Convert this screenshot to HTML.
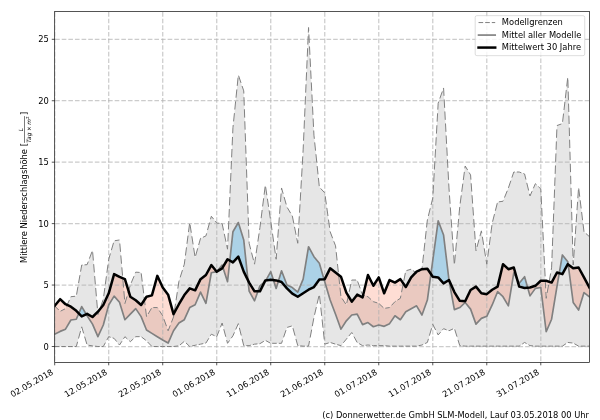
<!DOCTYPE html>
<html lang="de"><head><meta charset="utf-8"><title>Mittlere Niederschlagshöhe</title>
<style>html,body{margin:0;padding:0;background:#fff}svg{display:block}text{font-family:'DejaVu Sans','Liberation Sans',sans-serif;font-size:8.333px;fill:#000}</style></head><body>
<svg width="600" height="420" viewBox="0 0 600 420">
<rect width="600" height="420" fill="#fff"/>
<defs><clipPath id="ax"><rect x="54.70" y="11.50" width="534.70" height="350.90"/></clipPath></defs>
<g clip-path="url(#ax)">
<path d="M54.70 305.95 L60.10 311.36 L65.50 308.65 L70.90 296.73 L76.30 296.12 L81.71 265.03 L87.11 264.66 L92.51 250.28 L97.91 314.55 L103.31 299.19 L108.71 259.26 L114.11 240.82 L119.51 239.96 L124.91 303.49 L130.31 285.06 L135.72 272.16 L141.12 272.53 L146.52 316.64 L151.92 307.55 L157.32 307.55 L162.72 315.78 L168.12 330.77 L173.52 317.01 L178.92 281.37 L184.32 264.17 L189.73 222.51 L195.13 257.53 L200.53 238.37 L205.93 235.91 L211.33 216.25 L216.73 223.01 L222.13 223.62 L227.53 249.18 L232.93 127.77 L238.33 74.94 L243.74 90.91 L249.14 243.28 L254.54 264.17 L259.94 227.55 L265.34 185.04 L270.74 221.16 L276.14 259.26 L281.54 187.98 L286.94 207.03 L292.34 216.00 L297.75 243.28 L303.15 149.89 L308.55 27.50 L313.95 135.15 L319.35 187.00 L324.75 192.90 L330.15 231.73 L335.55 245.86 L340.95 296.73 L346.35 304.97 L351.76 280.02 L357.16 280.02 L362.56 295.01 L367.96 296.73 L373.36 301.65 L378.76 303.37 L384.16 308.41 L389.56 307.55 L394.96 301.65 L400.36 298.33 L405.77 270.81 L411.17 269.21 L416.57 273.26 L421.97 269.09 L427.37 219.93 L432.77 198.06 L438.17 103.20 L443.57 87.96 L448.97 187.98 L454.37 265.03 L459.78 206.42 L465.18 165.99 L470.58 174.96 L475.98 250.78 L481.38 230.87 L486.78 264.17 L492.18 223.25 L497.58 201.99 L502.98 201.26 L508.38 187.98 L513.79 172.01 L519.19 172.01 L524.59 173.98 L529.99 195.97 L535.39 183.68 L540.79 188.97 L546.19 298.33 L551.59 267.86 L556.99 125.56 L562.39 123.60 L567.80 77.02 L573.20 265.03 L578.60 187.37 L584.00 231.73 L589.40 236.65 L589.40 346.13 L584.00 346.13 L578.60 346.13 L573.20 343.06 L567.80 342.44 L562.39 346.13 L556.99 346.13 L551.59 346.13 L546.19 346.13 L540.79 346.13 L535.39 346.13 L529.99 345.64 L524.59 342.44 L519.19 346.13 L513.79 346.13 L508.38 346.13 L502.98 346.13 L497.58 346.13 L492.18 346.13 L486.78 346.13 L481.38 346.13 L475.98 346.13 L470.58 346.13 L465.18 346.13 L459.78 345.64 L454.37 328.31 L448.97 330.77 L443.57 328.68 L438.17 334.95 L432.77 324.38 L427.37 342.44 L421.97 345.03 L416.57 346.13 L411.17 346.13 L405.77 346.13 L400.36 346.13 L394.96 346.13 L389.56 346.13 L384.16 345.64 L378.76 345.64 L373.36 345.64 L367.96 345.03 L362.56 345.64 L357.16 342.44 L351.76 332.49 L346.35 339.13 L340.95 345.64 L335.55 344.17 L330.15 342.44 L324.75 344.17 L319.35 294.15 L313.95 317.50 L308.55 346.13 L303.15 346.13 L297.75 345.64 L292.34 325.86 L286.94 327.45 L281.54 343.31 L276.14 343.31 L270.74 343.31 L265.34 340.36 L259.94 343.67 L254.54 344.17 L249.14 345.64 L243.74 345.64 L238.33 323.64 L232.93 335.81 L227.53 343.31 L222.13 323.03 L216.73 336.67 L211.33 334.21 L205.93 343.06 L200.53 344.17 L195.13 345.27 L189.73 346.50 L184.32 341.34 L178.92 345.89 L173.52 346.50 L168.12 346.50 L162.72 346.50 L157.32 346.50 L151.92 346.50 L146.52 340.85 L141.12 336.67 L135.72 336.67 L130.31 341.71 L124.91 336.67 L119.51 345.03 L114.11 338.39 L108.71 336.67 L103.31 346.50 L97.91 346.50 L92.51 345.89 L87.11 345.03 L81.71 326.84 L76.30 346.50 L70.90 346.50 L65.50 346.50 L60.10 346.50 L54.70 346.50Z" fill="#808080" fill-opacity="0.2"/>
<path d="M54.70 305.83 L60.10 299.19 L65.50 304.23 L70.90 306.69 L76.30 310.86 L78.79 313.41 L76.30 319.22 L70.90 319.96 L65.50 329.17 L60.10 331.39 L54.70 334.21Z M86.21 314.24 L87.11 313.81 L92.51 317.01 L97.91 311.72 L103.31 304.97 L108.71 293.29 L114.11 274.12 L119.51 276.95 L124.91 279.16 L130.31 296.73 L135.72 300.30 L141.12 304.97 L146.52 296.73 L151.92 295.38 L157.32 275.84 L162.72 287.52 L168.12 294.64 L173.52 314.18 L178.92 304.23 L184.32 295.01 L189.73 288.38 L195.13 290.34 L200.53 279.16 L205.93 274.98 L211.33 265.03 L216.73 271.67 L211.33 272.77 L205.93 303.37 L200.53 292.06 L195.13 304.72 L189.73 307.55 L184.32 319.71 L178.92 323.03 L173.52 330.77 L168.12 343.06 L162.72 339.99 L157.32 336.67 L151.92 333.35 L146.52 330.03 L141.12 316.64 L135.72 308.65 L130.31 314.18 L124.91 319.71 L119.51 302.26 L114.11 296.12 L108.71 304.97 L103.31 325.00 L97.91 336.67 L92.51 324.14 L87.11 315.78Z M222.83 267.18 L227.53 259.26 L229.81 260.61 L227.53 281.74Z M247.98 280.27 L249.14 282.60 L254.54 291.33 L257.95 291.33 L254.54 300.79 L249.14 291.20Z M264.52 282.04 L265.34 280.39 L265.92 280.32 L265.34 281.37Z M273.46 280.09 L276.14 280.39 L278.39 281.06 L276.14 288.38Z M324.01 279.21 L324.75 279.16 L330.15 268.35 L335.55 272.53 L340.95 276.70 L346.35 292.56 L351.76 301.65 L357.16 294.64 L362.56 297.47 L367.96 274.98 L373.36 285.80 L378.76 277.44 L384.16 293.29 L389.56 280.02 L394.96 282.60 L400.36 279.16 L405.77 287.03 L411.17 277.44 L416.57 271.67 L421.97 269.21 L427.37 268.72 L430.93 273.98 L427.37 300.05 L421.97 315.04 L416.57 305.83 L411.17 308.65 L405.77 311.72 L400.36 319.71 L394.96 315.78 L389.56 323.64 L384.16 326.35 L378.76 325.00 L373.36 326.72 L367.96 322.54 L362.56 324.63 L357.16 314.18 L351.76 315.04 L346.35 320.82 L340.95 329.17 L335.55 314.18 L330.15 300.05 L324.75 281.74Z M448.97 280.02 L454.37 292.06 L459.78 300.79 L465.18 301.28 L470.58 289.98 L475.98 286.66 L481.38 293.29 L486.78 294.15 L492.18 289.73 L497.58 286.66 L502.98 264.17 L508.38 269.21 L513.79 267.49 L517.10 279.26 L513.79 272.77 L508.38 305.83 L502.98 296.73 L497.58 291.70 L492.18 304.97 L486.78 316.27 L481.38 318.36 L475.98 324.14 L470.58 309.14 L465.18 302.51 L459.78 307.55 L454.37 309.64Z M527.69 287.73 L529.99 287.52 L535.39 285.80 L540.79 280.76 L546.19 280.76 L551.59 282.60 L556.99 272.53 L559.25 273.19 L556.99 286.29 L551.59 319.22 L546.19 331.75 L540.79 287.52 L535.39 288.38 L529.99 295.87Z M568.16 264.45 L573.20 268.35 L578.60 267.49 L584.00 277.44 L589.40 287.52 L589.40 296.73 L584.00 292.56 L578.60 310.00 L573.20 302.51Z" fill="#fc5528" fill-opacity="0.2"/>
<path d="M78.79 313.41 L81.71 306.56 L86.21 314.24 L81.71 316.39Z M216.73 271.67 L222.13 265.03 L222.83 267.18 L222.13 268.35Z M229.81 260.61 L232.93 231.73 L238.33 222.51 L243.74 239.96 L247.98 280.27 L243.74 271.67 L238.33 256.67 L232.93 262.45Z M257.95 291.33 L259.94 285.80 L264.52 282.04 L259.94 291.33Z M265.92 280.32 L270.74 271.67 L273.46 280.09 L270.74 279.78Z M278.39 281.06 L281.54 270.81 L286.94 285.06 L292.34 287.52 L297.75 292.06 L303.15 279.16 L308.55 246.72 L313.95 256.67 L319.35 263.31 L324.01 279.21 L319.35 279.53 L313.95 287.03 L308.55 289.73 L303.15 293.29 L297.75 296.73 L292.34 293.66 L286.94 288.38 L281.54 281.99Z M430.93 273.98 L432.77 260.48 L438.17 220.79 L443.57 235.05 L448.97 280.02 L443.57 283.34 L438.17 277.44 L432.77 276.70Z M517.10 279.26 L519.19 283.34 L524.59 276.70 L527.69 287.73 L524.59 288.01 L519.19 286.66Z M559.25 273.19 L562.39 254.95 L567.80 261.71 L568.16 264.45 L567.80 264.17 L562.39 274.12Z" fill="#56b4e9" fill-opacity="0.4"/>
<path d="M54.70 362.40 V11.50 M108.71 362.40 V11.50 M162.72 362.40 V11.50 M216.73 362.40 V11.50 M270.74 362.40 V11.50 M324.75 362.40 V11.50 M378.76 362.40 V11.50 M432.77 362.40 V11.50 M486.78 362.40 V11.50 M540.79 362.40 V11.50" fill="none" stroke="#b0b0b0" stroke-opacity="0.65" stroke-width="1.25" stroke-dasharray="4.62 2.00" stroke-dashoffset="-1.50"/>
<path d="M54.70 346.50 H589.40 M54.70 285.06 H589.40 M54.70 223.62 H589.40 M54.70 162.18 H589.40 M54.70 100.74 H589.40 M54.70 39.30 H589.40" fill="none" stroke="#b0b0b0" stroke-opacity="0.65" stroke-width="1.25" stroke-dasharray="4.62 2.00" stroke-dashoffset="-0.40"/>
<path d="M54.70 305.95 L58.76 310.01 M60.55 311.13 L65.01 308.90 M66.45 306.56 L69.40 300.06 M70.67 297.25 L70.90 296.73 L75.15 296.25 M76.56 294.65 L77.95 286.62 M78.56 283.16 L79.95 275.13 M80.55 271.66 L81.71 265.03 L82.51 264.98 M84.51 264.84 L87.11 264.66 L88.25 261.61 M89.38 258.61 L91.99 251.66 M92.67 252.23 L93.37 260.56 M93.67 264.15 L94.37 272.47 M94.67 276.07 L95.37 284.39 M95.68 287.98 L96.37 296.31 M96.68 299.90 L97.38 308.22 M97.68 311.82 L97.91 314.55 L99.58 309.79 M100.66 306.73 L103.15 299.63 M103.72 296.17 L104.82 288.00 M105.30 284.46 L106.41 276.29 M106.88 272.76 L107.99 264.58 M108.47 261.05 L108.71 259.26 L110.41 253.46 M111.35 250.25 L113.53 242.82 M114.86 240.70 L119.48 239.97 M119.81 243.49 L120.52 251.81 M120.82 255.40 L121.53 263.72 M121.84 267.32 L122.55 275.64 M122.85 279.23 L123.56 287.55 M123.86 291.14 L124.57 299.46 M124.88 303.06 L124.91 303.49 L126.98 296.45 M127.92 293.24 L130.09 285.81 M131.24 282.84 L134.05 276.15 M135.26 273.25 L135.72 272.16 L139.59 272.42 M141.22 273.36 L142.22 281.58 M142.66 285.12 L143.66 293.34 M144.10 296.89 L145.11 305.11 M145.54 308.66 L146.52 316.64 L146.61 316.48 M148.08 314.01 L151.48 308.29 M153.32 307.55 L157.32 307.55 L157.80 308.28 M159.33 310.62 L162.72 315.78 L162.84 316.10 M163.93 319.14 L166.47 326.19 M167.57 329.23 L168.12 330.77 L170.22 325.42 M171.38 322.46 L173.52 317.01 L173.77 315.35 M174.31 311.84 L175.54 303.73 M176.07 300.22 L177.30 292.11 M177.83 288.60 L178.92 281.37 L179.17 280.57 M180.17 277.42 L182.46 270.10 M183.45 266.95 L184.32 264.17 L184.98 259.09 M185.44 255.55 L186.50 247.35 M186.96 243.82 L188.03 235.62 M188.48 232.08 L189.55 223.89 M190.06 224.66 L191.31 232.76 M191.85 236.26 L193.10 244.37 M193.64 247.87 L194.89 255.97 M195.63 255.74 L197.74 248.25 M198.65 245.01 L200.53 238.37 L201.03 238.13 M202.97 237.25 L205.93 235.91 L206.64 233.33 M207.53 230.08 L209.60 222.55 M210.49 219.29 L211.33 216.25 L213.60 219.09 M215.25 221.15 L216.73 223.01 L219.56 223.33 M221.55 223.55 L222.13 223.62 L223.58 230.49 M224.30 233.89 L225.96 241.75 M226.68 245.14 L227.53 249.18 L227.71 245.10 M227.88 241.48 L228.25 233.09 M228.41 229.46 L228.78 221.07 M228.94 217.45 L229.32 209.05 M229.48 205.43 L229.85 197.04 M230.01 193.41 L230.39 185.02 M230.55 181.40 L230.92 173.01 M231.08 169.38 L231.46 160.99 M231.62 157.37 L231.99 148.98 M232.15 145.35 L232.52 136.96 M232.69 133.34 L232.93 127.77 L233.22 124.99 M233.58 121.41 L234.43 113.13 M234.80 109.56 L235.64 101.28 M236.01 97.71 L236.85 89.43 M237.22 85.86 L238.06 77.58 M238.61 75.74 L241.03 82.91 M242.08 86.01 L243.74 90.91 L243.83 93.57 M243.96 97.20 L244.26 105.60 M244.38 109.23 L244.68 117.63 M244.81 121.26 L245.11 129.66 M245.24 133.29 L245.54 141.69 M245.66 145.32 L245.96 153.72 M246.09 157.35 L246.39 165.75 M246.52 169.38 L246.81 177.78 M246.94 181.41 L247.24 189.81 M247.37 193.44 L247.67 201.84 M247.80 205.47 L248.09 213.87 M248.22 217.50 L248.52 225.90 M248.65 229.53 L248.95 237.93 M249.08 241.56 L249.14 243.28 L250.70 249.33 M251.55 252.63 L253.52 260.24 M254.37 263.54 L254.54 264.17 L255.64 256.72 M256.15 253.21 L257.35 245.07 M257.87 241.56 L259.07 233.43 M259.59 229.92 L259.94 227.55 L260.68 221.74 M261.13 218.19 L262.17 209.99 M262.62 206.45 L263.66 198.25 M264.11 194.70 L265.15 186.50 M265.65 187.09 L266.86 195.22 M267.39 198.73 L268.60 206.85 M269.13 210.36 L270.34 218.48 M270.86 221.99 L272.01 230.14 M272.51 233.67 L273.67 241.82 M274.17 245.34 L275.32 253.49 M275.82 257.01 L276.14 259.26 L276.60 253.21 M276.87 249.61 L277.50 241.27 M277.78 237.67 L278.41 229.33 M278.68 225.73 L279.31 217.39 M279.59 213.78 L280.22 205.44 M280.49 201.84 L281.12 193.50 M281.40 189.90 L281.54 187.98 L283.18 193.75 M284.09 196.98 L286.22 204.46 M287.25 207.54 L290.67 213.21 M292.14 215.67 L292.34 216.00 L293.82 223.45 M294.50 226.87 L296.07 234.79 M296.74 238.22 L297.75 243.28 L297.92 240.26 M298.13 236.65 L298.61 228.27 M298.82 224.66 L299.31 216.29 M299.52 212.67 L300.00 204.30 M300.21 200.68 L300.69 192.31 M300.90 188.69 L301.39 180.32 M301.60 176.70 L302.08 168.33 M302.29 164.71 L302.77 156.34 M302.98 152.73 L303.15 149.89 L303.39 144.34 M303.55 140.72 L303.92 132.33 M304.08 128.70 L304.45 120.31 M304.61 116.69 L304.98 108.29 M305.14 104.67 L305.51 96.28 M305.67 92.65 L306.04 84.26 M306.20 80.64 L306.57 72.25 M306.73 68.62 L307.10 60.23 M307.26 56.61 L307.63 48.21 M307.79 44.59 L308.16 36.20 M308.32 32.57 L308.55 27.50 L308.71 30.82 M308.90 34.44 L309.32 42.83 M309.50 46.45 L309.92 54.83 M310.10 58.45 L310.52 66.84 M310.70 70.46 L311.12 78.84 M311.31 82.46 L311.73 90.85 M311.91 94.47 L312.33 102.85 M312.51 106.47 L312.93 114.85 M313.11 118.48 L313.53 126.86 M313.71 130.48 L313.95 135.15 L314.33 138.81 M314.70 142.39 L315.56 150.66 M315.94 154.23 L316.80 162.50 M317.17 166.08 L318.03 174.35 M318.40 177.92 L319.26 186.19 M320.67 188.45 L324.64 192.78 M325.21 196.21 L326.35 204.37 M326.84 207.89 L327.97 216.05 M328.46 219.58 L329.60 227.74 M330.09 231.27 L330.15 231.73 L332.64 238.25 M333.78 241.24 L335.55 245.86 L335.84 248.60 M336.22 252.17 L337.10 260.43 M337.48 264.00 L338.36 272.27 M338.74 275.84 L339.61 284.10 M339.99 287.67 L340.87 295.94 M342.15 298.55 L345.69 303.96 M346.77 303.04 L348.47 295.21 M349.20 291.83 L350.90 283.99 M351.63 280.61 L351.76 280.02 L356.04 280.02 M357.64 281.36 L360.18 288.41 M361.27 291.45 L362.56 295.01 L364.81 295.73 M366.78 296.36 L367.96 296.73 L371.03 299.53 M372.82 301.15 L373.36 301.65 L377.32 302.91 M379.24 303.82 L383.36 307.66 M385.26 308.23 L389.56 307.55 L389.83 307.26 M391.54 305.39 L394.96 301.65 L395.57 301.28 M397.46 300.11 L400.36 298.33 L400.89 295.65 M401.56 292.22 L403.12 284.30 M403.79 280.87 L405.35 272.94 M406.51 270.59 L411.08 269.23 M412.93 270.53 L416.57 273.26 L417.21 272.77 M419.05 271.34 L421.97 269.09 L422.25 266.49 M422.65 262.92 L423.55 254.67 M423.95 251.10 L424.85 242.85 M425.24 239.28 L426.15 231.02 M426.54 227.46 L427.37 219.93 L427.54 219.25 M428.36 215.94 L430.25 208.26 M431.07 204.94 L432.77 198.06 L432.82 197.19 M433.03 193.57 L433.50 185.20 M433.71 181.58 L434.19 173.21 M434.39 169.59 L434.87 161.22 M435.07 157.60 L435.55 149.23 M435.76 145.61 L436.23 137.24 M436.44 133.62 L436.92 125.24 M437.12 121.63 L437.60 113.25 M437.81 109.64 L438.17 103.20 L438.75 101.56 M439.83 98.51 L442.34 91.43 M443.43 88.37 L443.57 87.96 L444.00 95.85 M444.19 99.47 L444.65 107.85 M444.84 111.46 L445.29 119.84 M445.49 123.46 L445.94 131.84 M446.14 135.46 L446.59 143.84 M446.79 147.45 L447.24 155.83 M447.43 159.45 L447.89 167.83 M448.08 171.45 L448.53 179.83 M448.73 183.45 L448.97 187.98 L449.24 191.81 M449.49 195.42 L450.08 203.77 M450.33 207.38 L450.92 215.73 M451.17 219.33 L451.76 227.68 M452.01 231.29 L452.59 239.64 M452.85 243.25 L453.43 251.60 M453.69 255.21 L454.27 263.56 M454.57 262.91 L455.34 254.61 M455.67 251.02 L456.43 242.72 M456.76 239.13 L457.53 230.83 M457.86 227.24 L458.62 218.94 M458.95 215.35 L459.72 207.05 M460.16 203.51 L461.26 195.33 M461.73 191.79 L462.82 183.61 M463.29 180.08 L464.39 171.90 M464.86 168.37 L465.18 165.99 L467.60 170.02 M469.08 172.47 L470.58 174.96 L470.91 179.65 M471.17 183.25 L471.76 191.60 M472.02 195.21 L472.61 203.56 M472.87 207.16 L473.47 215.51 M473.72 219.12 L474.32 227.47 M474.58 231.07 L475.17 239.42 M475.43 243.03 L475.98 250.78 L476.13 250.24 M477.01 246.97 L479.06 239.42 M479.94 236.16 L481.38 230.87 L481.77 233.28 M482.34 236.77 L483.65 244.85 M484.21 248.33 L485.52 256.41 M486.09 259.90 L486.78 264.17 L487.29 260.32 M487.76 256.78 L488.84 248.60 M489.30 245.06 L490.38 236.88 M490.85 233.34 L491.93 225.15 M492.57 221.73 L494.51 214.08 M495.35 210.78 L497.29 203.14 M498.88 201.82 L502.98 201.26 L503.29 200.50 M504.48 197.57 L507.24 190.81 M508.42 187.88 L510.85 180.71 M511.89 177.61 L513.79 172.01 L514.80 172.01 M516.80 172.01 L519.19 172.01 L521.39 172.81 M523.35 173.53 L524.59 173.98 L525.96 179.57 M526.78 182.89 L528.66 190.57 M529.48 193.89 L529.99 195.97 L532.10 191.17 M533.35 188.33 L535.39 183.68 L536.58 184.85 M538.35 186.58 L540.79 188.97 L540.96 192.32 M541.14 195.95 L541.55 204.33 M541.73 207.95 L542.14 216.34 M542.32 219.96 L542.74 228.34 M542.91 231.96 L543.33 240.35 M543.51 243.97 L543.92 252.35 M544.10 255.98 L544.51 264.36 M544.69 267.98 L545.11 276.37 M545.29 279.99 L545.70 288.37 M545.88 292.00 L546.19 298.33 L546.54 296.37 M547.15 292.91 L548.57 284.90 M549.19 281.44 L550.61 273.43 M551.22 269.96 L551.59 267.86 L551.83 261.67 M551.97 258.04 L552.28 249.64 M552.42 246.01 L552.74 237.62 M552.88 233.99 L553.20 225.59 M553.33 221.96 L553.65 213.56 M553.79 209.94 L554.11 201.54 M554.25 197.91 L554.57 189.51 M554.70 185.88 L555.02 177.49 M555.16 173.86 L555.48 165.46 M555.62 161.83 L555.94 153.43 M556.07 149.81 L556.39 141.41 M556.53 137.78 L556.85 129.38 M556.99 125.76 L556.99 125.56 L561.43 123.95 M562.60 121.79 L563.56 113.55 M563.97 109.99 L564.93 101.76 M565.34 98.20 L566.30 89.96 M566.71 86.40 L567.66 78.17 M567.87 79.49 L568.11 87.90 M568.21 91.53 L568.45 99.93 M568.56 103.57 L568.80 111.97 M568.90 115.60 L569.15 124.01 M569.25 127.64 L569.49 136.05 M569.60 139.68 L569.84 148.09 M569.94 151.72 L570.18 160.12 M570.29 163.76 L570.53 172.16 M570.63 175.79 L570.87 184.20 M570.98 187.83 L571.22 196.24 M571.33 199.87 L571.57 208.28 M571.67 211.91 L571.91 220.32 M572.02 223.95 L572.26 232.35 M572.36 235.98 L572.60 244.39 M572.71 248.02 L572.95 256.43 M573.05 260.06 L573.20 265.03 L573.43 261.62 M573.69 258.01 L574.27 249.66 M574.52 246.05 L575.10 237.70 M575.35 234.09 L575.93 225.74 M576.18 222.13 L576.76 213.78 M577.01 210.17 L577.59 201.82 M577.84 198.21 L578.42 189.86 M578.73 188.47 L579.73 196.69 M580.16 200.24 L581.17 208.46 M581.60 212.01 L582.60 220.23 M583.03 223.78 L584.00 231.73 L584.13 231.85 M585.92 233.48 L589.40 236.65" fill="none" stroke="#808080" stroke-width="1.00" stroke-linejoin="round"/>
<path d="M54.70 346.50 L59.33 346.50 M61.33 346.50 L65.50 346.50 L65.96 346.50 M67.96 346.50 L70.90 346.50 L72.59 346.50 M74.59 346.50 L76.30 346.50 L77.61 341.76 M78.50 338.50 L80.57 330.97 M81.46 327.72 L81.71 326.84 L83.65 333.38 M84.60 336.58 L86.80 343.99 M88.45 345.24 L92.51 345.89 L93.07 345.95 M95.06 346.18 L97.91 346.50 L99.69 346.50 M101.69 346.50 L103.31 346.50 L105.43 342.63 M106.85 340.06 L108.71 336.67 L110.67 337.30 M112.64 337.92 L114.11 338.39 L116.71 341.59 M118.37 343.62 L119.51 345.03 L121.99 341.19 M123.51 338.84 L124.91 336.67 L127.40 338.99 M129.18 340.65 L130.31 341.71 L133.30 338.93 M135.08 337.27 L135.72 336.67 L139.63 336.67 M141.59 337.03 L145.85 340.33 M147.62 342.00 L151.63 346.20 M153.59 346.50 L157.32 346.50 L158.22 346.50 M160.22 346.50 L162.72 346.50 L164.85 346.50 M166.85 346.50 L168.12 346.50 L171.48 346.50 M173.48 346.50 L173.52 346.50 L178.10 345.98 M179.99 344.99 L184.19 341.45 M185.96 342.90 L189.73 346.50 L190.10 346.41 M192.09 345.96 L195.13 345.27 L196.68 344.95 M198.67 344.55 L200.53 344.17 L203.27 343.60 M205.26 343.20 L205.93 343.06 L208.87 338.24 M210.35 335.81 L211.33 334.21 L214.55 335.68 M216.49 336.56 L216.73 336.67 L219.29 330.21 M220.46 327.26 L222.13 323.03 L222.90 325.92 M223.77 329.19 L225.79 336.77 M226.66 340.04 L227.53 343.31 L229.63 340.40 M231.22 338.19 L232.93 335.81 L234.48 332.32 M235.74 329.49 L238.33 323.64 L238.54 324.48 M239.35 327.80 L241.24 335.48 M242.06 338.80 L243.74 345.64 L244.25 345.64 M246.25 345.64 L249.14 345.64 L250.86 345.17 M252.84 344.63 L254.54 344.17 L257.44 343.90 M259.44 343.72 L259.94 343.67 L263.85 341.27 M265.75 340.58 L270.19 343.00 M272.16 343.31 L276.14 343.31 L276.79 343.31 M278.79 343.31 L281.54 343.31 L282.53 340.40 M283.59 337.31 L286.02 330.15 M287.19 327.38 L291.76 326.03 M292.97 328.16 L295.03 335.70 M295.92 338.95 L297.75 345.64 L298.27 345.69 M300.27 345.87 L303.15 346.13 L304.89 346.13 M306.89 346.13 L308.55 346.13 L309.51 341.01 M310.16 337.57 L311.66 329.61 M312.31 326.17 L313.81 318.21 M314.56 314.84 L316.36 307.08 M317.13 303.73 L318.93 295.97 M319.53 295.79 L320.42 304.05 M320.80 307.62 L321.70 315.88 M322.08 319.45 L322.97 327.71 M323.36 331.28 L324.25 339.54 M324.64 343.10 L324.75 344.17 L328.73 342.90 M330.70 342.62 L335.26 344.07 M337.23 344.62 L340.95 345.64 L341.68 344.77 M343.34 342.76 L346.35 339.13 L347.20 338.09 M348.85 336.06 L351.76 332.49 L352.55 333.95 M353.95 336.54 L357.16 342.44 L357.22 342.48 M359.12 343.61 L362.56 345.64 L363.57 345.52 M365.57 345.30 L367.96 345.03 L370.19 345.28 M372.19 345.51 L373.36 345.64 L376.81 345.64 M378.81 345.64 L383.44 345.64 M385.44 345.76 L389.56 346.13 L390.07 346.13 M392.07 346.13 L394.96 346.13 L396.70 346.13 M398.70 346.13 L400.36 346.13 L403.33 346.13 M405.33 346.13 L405.77 346.13 L409.96 346.13 M411.96 346.13 L416.57 346.13 L416.59 346.13 M418.58 345.72 L421.97 345.03 L423.14 344.46 M425.08 343.54 L427.37 342.44 L428.45 338.83 M429.40 335.64 L431.62 328.24 M432.57 325.05 L432.77 324.38 L435.64 329.99 M437.00 332.66 L438.17 334.95 L440.62 332.10 M442.31 330.15 L443.57 328.68 L446.64 329.87 M448.59 330.62 L448.97 330.77 L453.09 328.90 M454.71 329.38 L456.99 336.70 M457.98 339.86 L459.78 345.64 L460.75 345.73 M462.75 345.91 L465.18 346.13 L467.38 346.13 M469.38 346.13 L470.58 346.13 L474.01 346.13 M476.01 346.13 L480.64 346.13 M482.64 346.13 L486.78 346.13 L487.27 346.13 M489.27 346.13 L492.18 346.13 L493.90 346.13 M495.90 346.13 L497.58 346.13 L500.53 346.13 M502.53 346.13 L502.98 346.13 L507.16 346.13 M509.16 346.13 L513.79 346.13 L513.79 346.13 M515.79 346.13 L519.19 346.13 L520.34 345.34 M522.21 344.07 L524.59 342.44 L526.58 343.62 M528.48 344.75 L529.99 345.64 L533.03 345.92 M535.02 346.10 L535.39 346.13 L539.65 346.13 M541.65 346.13 L546.19 346.13 L546.28 346.13 M548.28 346.13 L551.59 346.13 L552.91 346.13 M554.91 346.13 L556.99 346.13 L559.54 346.13 M561.54 346.13 L562.39 346.13 L565.93 343.72 M567.81 342.45 L572.43 342.97 M574.37 343.73 L578.60 346.13 L578.80 346.13 M580.80 346.13 L584.00 346.13 L585.43 346.13 M587.43 346.13 L589.40 346.13" fill="none" stroke="#808080" stroke-width="1.00" stroke-linejoin="round"/>
<path d="M54.70 334.21 L60.10 331.39 L65.50 329.17 L70.90 319.96 L76.30 319.22 L81.71 306.56 L87.11 315.78 L92.51 324.14 L97.91 336.67 L103.31 325.00 L108.71 304.97 L114.11 296.12 L119.51 302.26 L124.91 319.71 L130.31 314.18 L135.72 308.65 L141.12 316.64 L146.52 330.03 L151.92 333.35 L157.32 336.67 L162.72 339.99 L168.12 343.06 L173.52 330.77 L178.92 323.03 L184.32 319.71 L189.73 307.55 L195.13 304.72 L200.53 292.06 L205.93 303.37 L211.33 272.77 L216.73 271.67 L222.13 265.03 L227.53 281.74 L232.93 231.73 L238.33 222.51 L243.74 239.96 L249.14 291.20 L254.54 300.79 L259.94 285.80 L265.34 281.37 L270.74 271.67 L276.14 288.38 L281.54 270.81 L286.94 285.06 L292.34 287.52 L297.75 292.06 L303.15 279.16 L308.55 246.72 L313.95 256.67 L319.35 263.31 L324.75 281.74 L330.15 300.05 L335.55 314.18 L340.95 329.17 L346.35 320.82 L351.76 315.04 L357.16 314.18 L362.56 324.63 L367.96 322.54 L373.36 326.72 L378.76 325.00 L384.16 326.35 L389.56 323.64 L394.96 315.78 L400.36 319.71 L405.77 311.72 L411.17 308.65 L416.57 305.83 L421.97 315.04 L427.37 300.05 L432.77 260.48 L438.17 220.79 L443.57 235.05 L448.97 280.02 L454.37 309.64 L459.78 307.55 L465.18 302.51 L470.58 309.14 L475.98 324.14 L481.38 318.36 L486.78 316.27 L492.18 304.97 L497.58 291.70 L502.98 296.73 L508.38 305.83 L513.79 272.77 L519.19 283.34 L524.59 276.70 L529.99 295.87 L535.39 288.38 L540.79 287.52 L546.19 331.75 L551.59 319.22 L556.99 286.29 L562.39 254.95 L567.80 261.71 L573.20 302.51 L578.60 310.00 L584.00 292.56 L589.40 296.73" fill="none" stroke="#808080" stroke-width="1.67" stroke-linejoin="round" stroke-linecap="square"/>
<path d="M54.70 305.83 L60.10 299.19 L65.50 304.23 L70.90 306.69 L76.30 310.86 L81.71 316.39 L87.11 313.81 L92.51 317.01 L97.91 311.72 L103.31 304.97 L108.71 293.29 L114.11 274.12 L119.51 276.95 L124.91 279.16 L130.31 296.73 L135.72 300.30 L141.12 304.97 L146.52 296.73 L151.92 295.38 L157.32 275.84 L162.72 287.52 L168.12 294.64 L173.52 314.18 L178.92 304.23 L184.32 295.01 L189.73 288.38 L195.13 290.34 L200.53 279.16 L205.93 274.98 L211.33 265.03 L216.73 271.67 L222.13 268.35 L227.53 259.26 L232.93 262.45 L238.33 256.67 L243.74 271.67 L249.14 282.60 L254.54 291.33 L259.94 291.33 L265.34 280.39 L270.74 279.78 L276.14 280.39 L281.54 281.99 L286.94 288.38 L292.34 293.66 L297.75 296.73 L303.15 293.29 L308.55 289.73 L313.95 287.03 L319.35 279.53 L324.75 279.16 L330.15 268.35 L335.55 272.53 L340.95 276.70 L346.35 292.56 L351.76 301.65 L357.16 294.64 L362.56 297.47 L367.96 274.98 L373.36 285.80 L378.76 277.44 L384.16 293.29 L389.56 280.02 L394.96 282.60 L400.36 279.16 L405.77 287.03 L411.17 277.44 L416.57 271.67 L421.97 269.21 L427.37 268.72 L432.77 276.70 L438.17 277.44 L443.57 283.34 L448.97 280.02 L454.37 292.06 L459.78 300.79 L465.18 301.28 L470.58 289.98 L475.98 286.66 L481.38 293.29 L486.78 294.15 L492.18 289.73 L497.58 286.66 L502.98 264.17 L508.38 269.21 L513.79 267.49 L519.19 286.66 L524.59 288.01 L529.99 287.52 L535.39 285.80 L540.79 280.76 L546.19 280.76 L551.59 282.60 L556.99 272.53 L562.39 274.12 L567.80 264.17 L573.20 268.35 L578.60 267.49 L584.00 277.44 L589.40 287.52" fill="none" stroke="#000" stroke-width="2.50" stroke-linejoin="round" stroke-linecap="square"/>
</g>
<path d="M54.70 362.40 v2.92 M108.71 362.40 v2.92 M162.72 362.40 v2.92 M216.73 362.40 v2.92 M270.74 362.40 v2.92 M324.75 362.40 v2.92 M378.76 362.40 v2.92 M432.77 362.40 v2.92 M486.78 362.40 v2.92 M540.79 362.40 v2.92 M54.70 346.50 h-2.92 M54.70 285.06 h-2.92 M54.70 223.62 h-2.92 M54.70 162.18 h-2.92 M54.70 100.74 h-2.92 M54.70 39.30 h-2.92" fill="none" stroke="#000" stroke-width="0.67"/>
<rect x="54.70" y="11.50" width="534.70" height="350.90" fill="none" stroke="#000" stroke-width="0.67"/>
<text transform="translate(12.51 397.57) rotate(-30)">02.05.2018</text>
<text transform="translate(66.52 397.57) rotate(-30)">12.05.2018</text>
<text transform="translate(120.53 397.57) rotate(-30)">22.05.2018</text>
<text transform="translate(174.54 397.57) rotate(-30)">01.06.2018</text>
<text transform="translate(228.55 397.57) rotate(-30)">11.06.2018</text>
<text transform="translate(282.56 397.57) rotate(-30)">21.06.2018</text>
<text transform="translate(336.57 397.57) rotate(-30)">01.07.2018</text>
<text transform="translate(390.58 397.57) rotate(-30)">11.07.2018</text>
<text transform="translate(444.59 397.57) rotate(-30)">21.07.2018</text>
<text transform="translate(498.60 397.57) rotate(-30)">31.07.2018</text>
<text x="48.87" y="349.67" text-anchor="end">0</text>
<text x="48.87" y="288.23" text-anchor="end">5</text>
<text x="48.87" y="226.79" text-anchor="end">10</text>
<text x="48.87" y="165.35" text-anchor="end">15</text>
<text x="48.87" y="103.91" text-anchor="end">20</text>
<text x="48.87" y="42.47" text-anchor="end">25</text>
<g transform="translate(27.20 263.00) rotate(-90)">
<text x="0" y="-0.42">Mittlere Niederschlagshöhe [</text>
<text x="147.90" y="-0.42">]</text>
<text x="131.82" y="-4.48" style="font-size:5.833px;font-style:oblique">L</text>
<text x="120.15" y="3.79" style="font-size:5.833px;font-style:oblique">Tag</text>
<text x="132.13" y="3.79" style="font-size:5.833px">×</text>
<text x="138.15" y="3.79" style="font-size:5.833px;font-style:oblique">m</text>
<text x="144.10" y="1.56" style="font-size:4.083px">2</text>
<rect x="120.15" y="-2.83" width="26.71" height="0.52" fill="#000"/>
</g>
<rect x="475.20" y="15.67" width="109.53" height="40.00" rx="1.67" ry="1.67" fill="#fff" fill-opacity="0.8" stroke="#ccc" stroke-opacity="0.8" stroke-width="0.83"/>
<path d="M478.54 22.57 H495.20" stroke="#808080" stroke-width="1.00" stroke-dasharray="4.63 2.00" fill="none"/>
<text x="501.87" y="25.08">Modellgrenzen</text>
<path d="M478.54 35.07 H495.20" stroke="#808080" stroke-width="1.67" stroke-linecap="square" fill="none"/>
<text x="501.87" y="38.28">Mittel aller Modelle</text>
<path d="M478.54 47.57 H495.20" stroke="#000" stroke-width="2.50" stroke-linecap="square" fill="none"/>
<text x="501.87" y="50.38">Mittelwert 30 Jahre</text>
<text x="589.00" y="418.00" text-anchor="end">(c) Donnerwetter.de GmbH SLM-Modell, Lauf 03.05.2018 00 Uhr</text>
</svg></body></html>
